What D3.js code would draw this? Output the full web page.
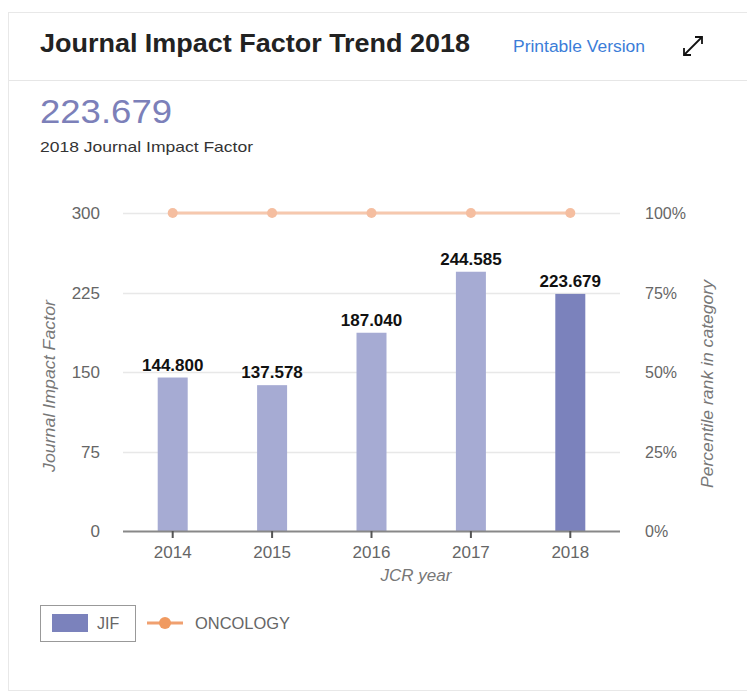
<!DOCTYPE html>
<html><head><meta charset="utf-8">
<script src="https://cdn.jsdelivr.net/npm/d3@7"></script>
<style>
html,body{margin:0;padding:0;background:#fff;}
svg{display:block;font-family:Arial,"Liberation Sans",sans-serif;}
</style></head>
<body><svg id="c" width="747" height="695"></svg>
<script>
const years = ["2014","2015","2016","2017","2018"];
const jif = [144.800, 137.578, 187.040, 244.585, 223.679];
const percentile = [100, 100, 100, 100, 100];
const leftTicks = [0, 75, 150, 225, 300];
const rightTicks = [0, 25, 50, 75, 100];
const headline = "223.679";

const svg = d3.select("#c");
// card
svg.append("rect").attr("x",8.5).attr("y",12.5).attr("width",760).attr("height",678)
  .attr("fill","#fff").attr("stroke","#e8e8e8");
svg.append("line").attr("x1",9).attr("x2",747).attr("y1",80.5).attr("y2",80.5).attr("stroke","#e6e6e6");

svg.append("text").attr("x",40).attr("y",52).attr("font-size",26).attr("font-weight","bold")
  .attr("fill","#222").attr("textLength",430).attr("lengthAdjust","spacingAndGlyphs")
  .text("Journal Impact Factor Trend 2018");
svg.append("text").attr("x",513).attr("y",52).attr("font-size",16).attr("fill","#3b7dd8")
  .attr("textLength",132).attr("lengthAdjust","spacingAndGlyphs").text("Printable Version");
// expand icon
const ic = svg.append("g").attr("stroke","#111").attr("stroke-width",1.8).attr("fill","none");
ic.append("line").attr("x1",684).attr("y1",55).attr("x2",702).attr("y2",37);
ic.append("path").attr("d","M695,37 L702,37 L702,44");
ic.append("path").attr("d","M684,48 L684,55 L691,55");

svg.append("text").attr("x",40).attr("y",123).attr("font-size",34).attr("fill","#7c80b9")
  .attr("textLength",132).attr("lengthAdjust","spacingAndGlyphs").text(headline);
svg.append("text").attr("x",40).attr("y",152).attr("font-size",15).attr("fill","#333")
  .attr("textLength",213).attr("lengthAdjust","spacingAndGlyphs").text("2018 Journal Impact Factor");

const x = d3.scaleBand().domain(years).range([123,620]).paddingInner(0).paddingOuter(0);
const y = d3.scaleLinear().domain([0,300]).range([531,213]);
const y2 = d3.scaleLinear().domain([0,100]).range([531,213]);
const barW = 30;

// grid
svg.append("g").selectAll("line").data(leftTicks.slice(1)).join("line")
  .attr("x1",123).attr("x2",620).attr("y1",d=>Math.round(y(d))+0.5).attr("y2",d=>Math.round(y(d))+0.5)
  .attr("stroke","#e8e8e8").attr("stroke-width",1.5);

// left axis labels
svg.append("g").selectAll("text").data(leftTicks).join("text")
  .attr("x",100).attr("y",d=>y(d)+6).attr("text-anchor","end").attr("font-size",17).attr("fill","#666").text(d=>d);
// right axis labels
svg.append("g").selectAll("text").data(rightTicks).join("text")
  .attr("x",645).attr("y",d=>y2(d)+6).attr("text-anchor","start").attr("font-size",16).attr("fill","#666").text(d=>d+"%");

// bars
svg.append("g").selectAll("rect").data(jif).join("rect")
  .attr("x",(d,i)=>x(years[i])+x.bandwidth()/2-barW/2).attr("width",barW)
  .attr("y",d=>y(d)).attr("height",d=>y(0)-y(d))
  .attr("fill",(d,i)=>i===jif.length-1?"#7b82bc":"#a6abd3");

// value labels
svg.append("g").selectAll("text").data(jif).join("text")
  .attr("x",(d,i)=>x(years[i])+x.bandwidth()/2).attr("y",d=>y(d)-7)
  .attr("text-anchor","middle").attr("font-size",17).attr("font-weight","bold").attr("fill","#111")
  .text(d=>d.toFixed(3));

// x axis
svg.append("line").attr("x1",123).attr("x2",620).attr("y1",531.5).attr("y2",531.5).attr("stroke","#888").attr("stroke-width",2);
svg.append("g").selectAll("line").data(years).join("line")
  .attr("x1",d=>x(d)+x.bandwidth()/2).attr("x2",d=>x(d)+x.bandwidth()/2).attr("y1",531).attr("y2",538)
  .attr("stroke","#555").attr("stroke-width",2);
svg.append("g").selectAll("text").data(years).join("text")
  .attr("x",d=>x(d)+x.bandwidth()/2).attr("y",558).attr("text-anchor","middle").attr("font-size",17).attr("fill","#666").text(d=>d);
svg.append("text").attr("x",416).attr("y",581).attr("text-anchor","middle").attr("font-size",17)
  .attr("font-style","italic").attr("fill","#777").text("JCR year");

// axis titles
svg.append("text").attr("transform","translate(55,386) rotate(-90)").attr("text-anchor","middle")
  .attr("font-size",17).attr("font-style","italic").attr("fill","#777")
  .attr("textLength",172).attr("lengthAdjust","spacingAndGlyphs").text("Journal Impact Factor");
svg.append("text").attr("transform","translate(713,384) rotate(-90)").attr("text-anchor","middle")
  .attr("font-size",17).attr("font-style","italic").attr("fill","#777")
  .attr("textLength",208).attr("lengthAdjust","spacingAndGlyphs").text("Percentile rank in category");

// percentile line
const line = d3.line().x((d,i)=>x(years[i])+x.bandwidth()/2).y(d=>y2(d));
svg.append("path").datum(percentile).attr("d",line).attr("fill","none").attr("stroke","#f6c8ae").attr("stroke-width",3);
svg.append("g").selectAll("circle").data(percentile).join("circle")
  .attr("cx",(d,i)=>x(years[i])+x.bandwidth()/2).attr("cy",d=>y2(d)).attr("r",5).attr("fill","#f5bea0");

// legend
svg.append("rect").attr("x",40.5).attr("y",605.5).attr("width",95).attr("height",36).attr("fill","#fff").attr("stroke","#999");
svg.append("rect").attr("x",52).attr("y",614).attr("width",36).attr("height",18).attr("fill","#7b82bc");
svg.append("text").attr("x",97).attr("y",629).attr("font-size",16).attr("fill","#666").text("JIF");
svg.append("line").attr("x1",147).attr("x2",183).attr("y1",623).attr("y2",623).attr("stroke","#f0a070").attr("stroke-width",3);
svg.append("circle").attr("cx",165).attr("cy",623).attr("r",6).attr("fill","#f09a60");
svg.append("text").attr("x",195).attr("y",629).attr("font-size",16).attr("fill","#666")
  .attr("textLength",95).attr("lengthAdjust","spacingAndGlyphs").text("ONCOLOGY");
</script></body></html>
